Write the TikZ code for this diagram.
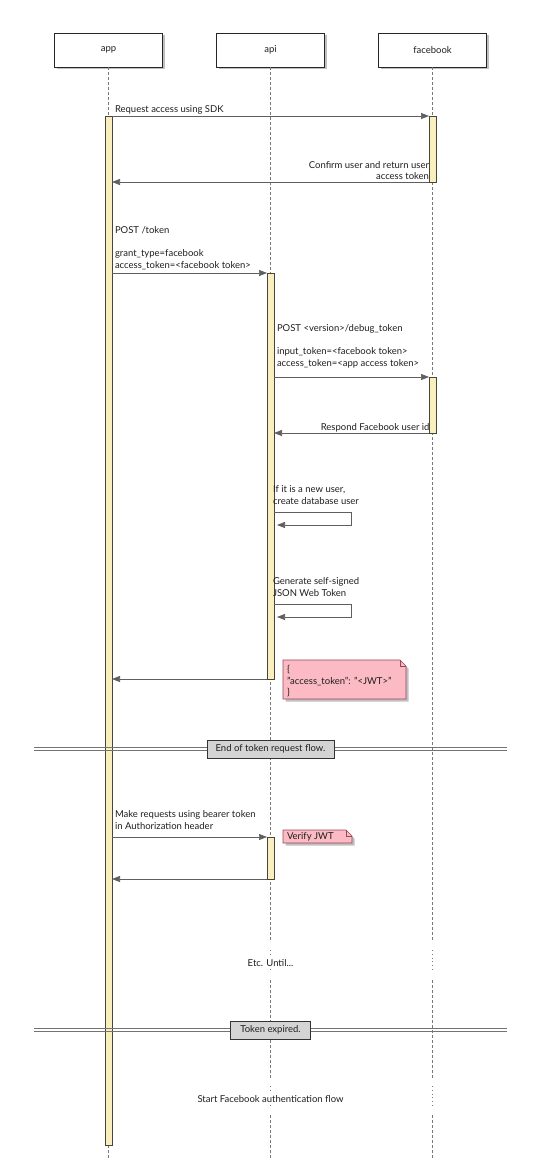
\documentclass[tikz,border=0pt]{standalone}
\usepackage{fontspec}
\setmainfont{Lato}
\usetikzlibrary{arrows.meta,shadows}
\definecolor{barfill}{RGB}{248,238,190}
\definecolor{bardraw}{RGB}{70,70,60}
\definecolor{notefill}{RGB}{251,186,196}
\definecolor{notedraw}{RGB}{150,70,85}
\definecolor{divfill}{RGB}{212,212,212}
\definecolor{linegray}{RGB}{95,95,95}
\definecolor{lifegray}{RGB}{120,120,120}
\definecolor{txt}{RGB}{30,30,30}
\tikzset{
  every node/.style={font=\fontsize{9.5}{11.5}\selectfont, text=txt, inner sep=0pt, outer sep=0pt},
  shad/.style={drop shadow={shadow xshift=2.5pt, shadow yshift=-2.5pt, fill=black!45, opacity=0.55}},
  pbox/.style={draw=black!85, fill=white, line width=0.8pt, minimum width=108pt, minimum height=34pt, shad},
  life/.style={draw=lifegray, line width=0.6pt, dash pattern=on 3pt off 2pt},
  dots/.style={draw=lifegray, line width=0.6pt, dash pattern=on 0.8pt off 3pt},
  bar/.style={draw=bardraw, fill=barfill, line width=0.7pt, minimum width=7pt, anchor=north},
  msg/.style={draw=linegray, line width=0.7pt, -{Triangle[length=8pt,width=6pt]}},
  lbl/.style={align=left, execute at begin node=\strut, execute at end node=\strut},
  lblr/.style={align=right, execute at begin node=\strut, execute at end node=\strut},
  notebox/.style={draw=notedraw, fill=notefill, line width=0.6pt, shad},
  fold/.style={draw=notedraw, line width=0.6pt},
  divline/.style={draw=black!55, line width=0.6pt},
  divbox/.style={draw=black!80, fill=divfill, line width=0.7pt},
  delaytxt/.style={fill=white, inner sep=2pt}
}
\begin{document}
\begin{tikzpicture}[x=1pt,y=-1pt]
\useasboundingbox (0,0) rectangle (540,1169);

% participants
\node[pbox] (app) at (108.5,50) {app};
\node[pbox] (api) at (270.5,50) {api};
\node[pbox] (fb) at (432.5,50) {facebook};

% lifelines
\foreach \n in {app,api,fb}{
  \draw[life] (\n.south) -- (\n.south |- 0,942);
  \draw[dots] (\n.south |- 0,950) -- (\n.south |- 0,972);
  \draw[life] (\n.south |- 0,980) -- (\n.south |- 0,1078);
  \draw[dots] (\n.south |- 0,1086) -- (\n.south |- 0,1107);
  \draw[life] (\n.south |- 0,1115) -- (\n.south |- 0,1158);
}

% activation bars
\node[bar, minimum height=1029pt] (appbar) at (108.5,116) {};
\node[bar, minimum height=66pt] (fb1) at (432.5,116) {};
\node[bar, minimum height=406pt] (api1) at (270.5,273) {};
\node[bar, minimum height=56pt] (fb2) at (432.5,377) {};
\node[bar, minimum height=42pt] (api2) at (270.5,837) {};

% 1
\draw[msg] (appbar.east |- fb1.north) -- (fb1.north west);
\node[lbl, anchor=south west] (t1) at (115,115.5) {Request access using SDK};
% 2
\draw[msg] (fb1.south west) -- (appbar.east |- fb1.south);
\node[lblr, anchor=south east] (t2) at (429,183) {Confirm user and return user\\access token};
% 3
\draw[msg] (appbar.east |- api1.north) -- (api1.north west);
\node[lbl, anchor=south west] (t3) at (115,271.5) {POST /token\\[11.5pt]grant\_type=facebook\\access\_token=<facebook token>};
% 4
\draw[msg] (api1.east |- fb2.north) -- (fb2.north west);
\node[lbl, anchor=south west] (t4) at (277,369.5) {POST <version>/debug\_token\\[11.5pt]input\_token=<facebook token>\\access\_token=<app access token>};
% 5
\draw[msg] (fb2.south west) -- (api1.east |- fb2.south);
\node[lblr, anchor=south east] (t5) at (429.5,433.5) {Respond Facebook user id};
% 6 self loop
\coordinate (s1a) at (351,512);
\coordinate (s1b) at (351,525);
\coordinate (s1c) at (277,525);
\draw[msg] (api1.east |- s1a) -- (s1a) -- (s1b) -- (s1c);
\node[lbl, anchor=south west] (t6) at (273,507.5) {If it is a new user,\\create database user};
% 7 self loop
\coordinate (s2a) at (351,604);
\coordinate (s2b) at (351,617);
\coordinate (s2c) at (277,617);
\draw[msg] (api1.east |- s2a) -- (s2a) -- (s2b) -- (s2c);
\node[lbl, anchor=south west] (t7) at (273,599.5) {Generate self-signed\\JSON Web Token};
% 8 return
\draw[msg] (api1.south west) -- (appbar.east |- api1.south);

% note 1
\draw[notebox] (283,660) -- (400,660) -- (406,666) -- (406,699) -- (283,699) -- cycle;
\draw[fold] (400,660) -- (400,666) -- (406,666);
\node[lbl, anchor=north west] (n1) at (287,665.5) {\{\\"access\_token": "<JWT>"\\\}};

% divider 1
\draw[divline] (34,747) -- (507,747);
\draw[divline] (34,750) -- (507,750);
\node[divbox, minimum width=127pt, minimum height=18pt] (d1) at (270.5,749) {End of token request flow.};

% 9
\draw[msg] (appbar.east |- api2.north) -- (api2.north west);
\node[lbl, anchor=south west] (t9) at (115,832.5) {Make requests using bearer token\\in Authorization header};
% note 2
\draw[notebox] (283,830) -- (346,830) -- (352,836) -- (352,843) -- (283,843) -- cycle;
\draw[fold] (346,830) -- (346,836) -- (352,836);
\node[anchor=west] (n2) at (287,837) {Verify JWT};
% 10
\draw[msg] (api2.south west) -- (appbar.east |- api2.south);

% delay
\node[delaytxt] (e1) at (270.5,963) {Etc. Until...};

% divider 2
\draw[divline] (34,1028) -- (507,1028);
\draw[divline] (34,1031) -- (507,1031);
\node[divbox, minimum width=80pt, minimum height=18pt] (d2) at (270.5,1030) {Token expired.};

\node[delaytxt] (e2) at (270.5,1099) {Start Facebook authentication flow};
\end{tikzpicture}
\end{document}
